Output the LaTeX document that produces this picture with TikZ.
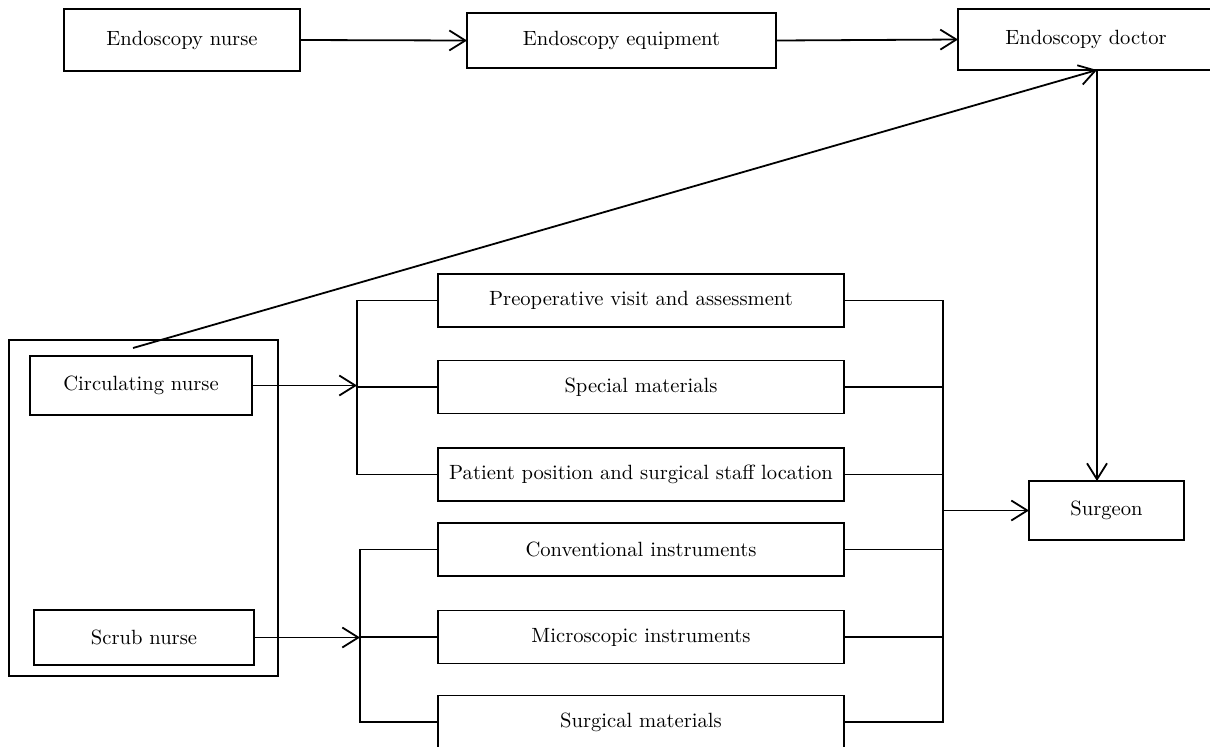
\documentclass[tikz,border=0pt]{standalone}
\usepackage{amsmath}
\usetikzlibrary{calc,arrows.meta}

\begin{document}
\begin{tikzpicture}[x=0.5pt,y=-0.5pt,
    box/.style={draw,line width=0.7pt,inner sep=0pt,outer sep=0pt,minimum height=26.5pt,font=\fontsize{10.3}{12}\selectfont},
    arr/.style={line width=0.9pt,-{Straight Barb[length=8pt,width=10pt,line width=0.9pt]}},
    ln/.style={line width=0.9pt}]
    \useasboundingbox (0,0) rectangle (1210,746);
    \node[box,minimum width=118pt,minimum height=31pt] (enurse) at (182,40) {Endoscopy nurse};
    \node[box,minimum width=154.5pt,minimum height=27.5pt] (equip) at (621.5,40.5) {Endoscopy equipment};
    \node[box,minimum width=128pt,minimum height=30.5pt] (doctor) at (1086,39.5) {Endoscopy doctor};
    \node[draw,line width=0.9pt,minimum width=134.5pt,minimum height=168pt,inner sep=0pt] (team) at (143.5,508) {};
    \node[box,minimum width=111pt,minimum height=29.5pt] (circ) at (141,385.5) {Circulating nurse};
    \node[box,minimum width=110pt,minimum height=27.5pt] (scrub) at (144,637.5) {Scrub nurse};
    \node[box,minimum width=203pt] (preop) at (641,300.5) {Preoperative visit and assessment};
    \node[box,minimum width=203pt] (special) at (641,387) {Special materials};
    \node[box,minimum width=203pt] (patient) at (641,474.5) {Patient position and surgical staff location};
    \node[box,minimum width=203pt] (conv) at (641,549.5) {Conventional instruments};
    \node[box,minimum width=203pt] (micro) at (641,637) {Microscopic instruments};
    \node[box,minimum width=203pt] (surgmat) at (641,722) {Surgical materials};
    \node[box,minimum width=77.5pt,minimum height=29.5pt] (surgeon) at (1106.5,510.5) {Surgeon};
    \coordinate (dtap) at (1097,70);
    \coordinate (cfrom) at (133,348);
    \coordinate (lbrk) at (357,0);
    \coordinate (sbrk) at (360,0);
    \coordinate (rbrk) at (943,0);
    \draw[arr] (enurse.east) -- (equip.west);
    \draw[arr] (equip.east) -- (doctor.west);
    \draw[arr] (cfrom) -- (dtap);
    \draw[arr] (dtap) -- (dtap |- surgeon.north);
    \draw[arr] (circ.east) -- (lbrk |- circ.east);
    \draw[ln] (preop.west) -| (lbrk |- patient.west) -- (patient.west);
    \draw[ln] (lbrk |- special.west) -- (special.west);
    \draw[arr] (scrub.east) -- (sbrk |- scrub.east);
    \draw[ln] (conv.west) -| (sbrk |- surgmat.west) -- (surgmat.west);
    \draw[ln] (sbrk |- micro.west) -- (micro.west);
    \draw[ln] (preop.east) -| (rbrk |- surgmat.east) -- (surgmat.east);
    \foreach \b in {special,patient,conv,micro}
        \draw[ln] (\b.east) -- (rbrk |- \b.east);
    \draw[arr] (rbrk |- surgeon.west) -- (surgeon.west);
\end{tikzpicture}
\end{document}
